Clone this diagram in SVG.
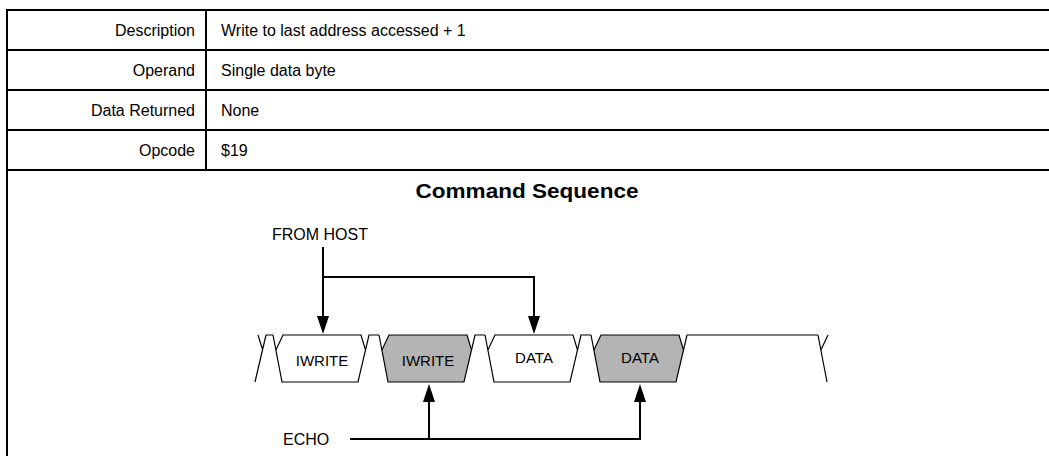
<svg xmlns="http://www.w3.org/2000/svg" width="1049" height="456" viewBox="0 0 1049 456">
<style>
.tl{stroke:#000;stroke-width:2;fill:none}
.t{font-family:"Liberation Sans",Arial,sans-serif;font-size:16px;fill:#000}
.r{text-anchor:end}
.h{font-weight:bold;text-anchor:middle;font-size:21px}
.w{stroke:#000;stroke-width:1.2;fill:none}
.fw{stroke:#000;stroke-width:1.2;fill:#fff}
.fg{stroke:#000;stroke-width:1.2;fill:#b4b4b4}
.fl{font-family:"Liberation Sans",Arial,sans-serif;font-size:15px;text-anchor:middle;fill:#000}
.c{stroke:#000;stroke-width:2;fill:none}
</style>
<defs>
<marker id="ah" markerUnits="userSpaceOnUse" markerWidth="18" markerHeight="12" refX="0" refY="6" orient="auto">
<path d="M0,0 L18,6 L0,12 z" fill="#000"/>
</marker>
</defs>
<rect width="1049" height="456" fill="#fff"/>
<g id="table">
<path class="tl" d="M7,9 V456 M6,10 H1049 M6,50 H1049 M6,90 H1049 M6,130 H1049 M6,170 H1049 M206,10 V170"/>
<text class="t r" x="195" y="36">Description</text>
<text class="t" x="221" y="36">Write to last address accessed + 1</text>
<text class="t r" x="195" y="76">Operand</text>
<text class="t" x="221" y="76">Single data byte</text>
<text class="t r" x="195" y="116">Data Returned</text>
<text class="t" x="221" y="116">None</text>
<text class="t r" x="195" y="156">Opcode</text>
<text class="t" x="221" y="156">$19</text>
<text class="t h" x="527" y="198" textLength="223" lengthAdjust="spacingAndGlyphs">Command Sequence</text>
</g>
<g id="waveform">
<path class="w" d="M255,382 L266,335 M258,335 L262.7,350 M266,335 H273 M687,335 H818 M818,335 L827,382 M828,335 L820.9,350"/>
</g>
<g id="frame-iwrite-host">
<polygon class="fw" points="283,335 361,335 365.5,350 358,382 282,382 275.9,350"/>
<path class="w" d="M273,335 L275.9,350 M365.5,350 L369,335 H379"/>
<text class="fl" x="322" y="366">IWRITE</text>
</g>
<g id="frame-iwrite-echo">
<polygon class="fg" points="389,335 467,335 471.5,350 464,382 388,382 381.9,350"/>
<path class="w" d="M379,335 L381.9,350 M471.5,350 L475,335 H485"/>
<text class="fl" x="428" y="366">IWRITE</text>
</g>
<g id="frame-data-host">
<polygon class="fw" points="495,335 573,335 577.5,350 570,382 494,382 487.9,350"/>
<path class="w" d="M485,335 L487.9,350 M577.5,350 L581,335 H591"/>
<text class="fl" x="534" y="363">DATA</text>
</g>
<g id="frame-data-echo">
<polygon class="fg" points="601,335 679,335 683.5,350 676,382 600,382 593.9,350"/>
<path class="w" d="M591,335 L593.9,350 M683.5,350 L687,335"/>
<text class="fl" x="640" y="363">DATA</text>
</g>
<g id="label-from-host">
<text class="t" x="272" y="240">FROM HOST</text>
</g>
<g id="label-echo">
<text class="t" x="283" y="445">ECHO</text>
</g>
<g id="connectors">
<path class="c" d="M323,247 V316" marker-end="url(#ah)"/>
<path class="c" d="M322,277 H534 V316" marker-end="url(#ah)"/>
<path class="c" d="M350,439 H640 V402" marker-end="url(#ah)"/>
<path class="c" d="M429,440 V402" marker-end="url(#ah)"/>
</g>
</svg>
